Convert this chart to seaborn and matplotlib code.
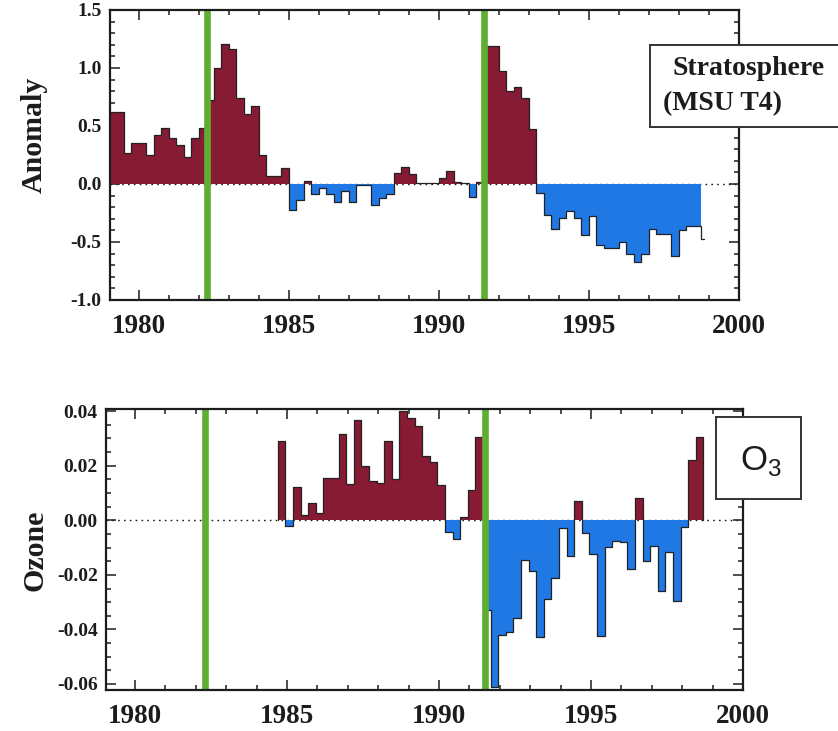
import numpy as np
import pandas as pd
import matplotlib
matplotlib.use("Agg")
import matplotlib.pyplot as plt
import seaborn as sns
from matplotlib.ticker import MultipleLocator, FormatStrFormatter
from matplotlib.patches import Rectangle

# ---------------- data ----------------
strat_start = 1979.0
strat_step = 0.25
strat_values = [
    0.62, 0.62, 0.27, 0.35,      # 1979
    0.35, 0.25, 0.42, 0.48,      # 1980
    0.40, 0.34, 0.23, 0.40,      # 1981
    0.48, 0.72, 1.00, 1.21,      # 1982
    1.16, 0.74, 0.60, 0.67,      # 1983
    0.25, 0.07, 0.07, 0.14,      # 1984
    -0.22, -0.14, 0.025, -0.09,  # 1985
    -0.035, -0.09, -0.155, -0.06,  # 1986
    -0.155, -0.01, -0.01, -0.18,  # 1987
    -0.12, -0.09, 0.095, 0.15,   # 1988
    0.09, 0.01, 0.01, 0.01,      # 1989
    0.05, 0.11, 0.02, 0.005,     # 1990
    -0.11, 0.02, 1.19, 1.19,     # 1991
    0.97, 0.80, 0.84, 0.74,      # 1992
    0.47, -0.08, -0.27, -0.39,   # 1993
    -0.29, -0.23, -0.29, -0.44,  # 1994
    -0.28, -0.53, -0.55, -0.55,  # 1995
    -0.50, -0.60, -0.67, -0.60,  # 1996
    -0.39, -0.43, -0.43, -0.62,  # 1997
    -0.40, -0.36, -0.36, -0.47,  # 1998
]

ozone_start = 1984.7
ozone_step = 0.25
ozone_values = [
    0.0292, -0.0022, 0.0123, 0.0021, 0.0062, 0.0027, 0.0156, 0.0156,
    0.0316, 0.0132, 0.0369, 0.0199, 0.0144, 0.0138, 0.0292, 0.0153,
    0.0400, 0.0374, 0.0347, 0.0236, 0.0215, 0.0128, -0.0043, -0.0070,
    0.0012, 0.0112, 0.0305,
    -0.0330, -0.0610, -0.0420, -0.0410, -0.0357, -0.0146, -0.0186, -0.0427,
    -0.0287, -0.0213, -0.0028, -0.0131, 0.0070, -0.0045, -0.0124, -0.0425,
    -0.0097, -0.0075, -0.0080, -0.0180, 0.0080, -0.0149, -0.0093, -0.0258,
    -0.0117, -0.0295, -0.0023, 0.0220, 0.0305,
]

eruptions = [1982.29, 1991.5]
x_ticks = [1980, 1985, 1990, 1995, 2000]
strat_yticks = [-1.0, -0.5, 0.0, 0.5, 1.0, 1.5]
ozone_yticks = [-0.06, -0.04, -0.02, 0.00, 0.02, 0.04]
strat_label = "Anomaly"
ozone_label = "Ozone"
strat_title = ["Stratosphere", "(MSU T4)"]
ozone_title = r"O$_\mathregular{3}$"

# ---------------- style ----------------
sns.set_style("ticks")
plt.rcParams['font.family'] = ['Liberation Serif', 'DejaVu Serif']
plt.rcParams['font.weight'] = 'bold'
plt.rcParams['axes.unicode_minus'] = False

MAROON = '#861b33'
BLUE = '#1f78e4'
GREEN = '#5fae34'
INK = '#1c1c1c'

fig = plt.figure(figsize=(8.38, 7.31), dpi=100)
fig.patch.set_facecolor('white')
ax1 = fig.add_axes([110/838, 1-300/731, 629/838, 290/731])
ax2 = fig.add_axes([106/838, 1-690/731, 637/838, 281/731])


def draw_series(ax, start, step, values, stub):
    v = np.asarray(values, float)
    t = start + step * np.arange(len(v))
    # filled part (last value of the stratosphere series is drawn as line only)
    nf = len(v) - 1 if stub else len(v)
    tf = np.append(t[:nf], t[nf - 1] + step)
    vf = np.append(v[:nf], v[nf - 1])
    ax.fill_between(tf, 0, np.clip(vf, 0, None), step='post',
                    color=MAROON, lw=0, zorder=2)
    ax.fill_between(tf, 0, np.clip(vf, None, 0), step='post',
                    color=BLUE, lw=0, zorder=2)
    # step outline
    if stub:
        tl = np.append(t, t[-1] + 0.08)
        vl = np.append(v, v[-1])
    else:
        tl = np.concatenate([[t[0]], t, [t[-1] + step, t[-1] + step]])
        vl = np.concatenate([[0.0], v, [v[-1], 0.0]])
    df = pd.DataFrame({'year': tl, 'value': vl})
    sns.lineplot(data=df, x='year', y='value', estimator=None, sort=False,
                 drawstyle='steps-post', color='#222222', lw=0.9,
                 ax=ax, zorder=3)


def style_axis(ax, yticks, ylim, minor_y, fmt):
    ax.axhline(0, color=INK, lw=1.0, ls=(0, (1.2, 3)), zorder=1.5)
    for x in eruptions:
        ax.axvline(x, color=GREEN, lw=4.8, zorder=4)
    ax.set_xlim(1979.05, 2000.0)
    ax.set_ylim(*ylim)
    ax.set_xticks(x_ticks)
    ax.set_xticklabels([str(v) for v in x_ticks])
    ax.xaxis.set_minor_locator(MultipleLocator(1))
    ax.set_yticks(yticks)
    ax.yaxis.set_major_formatter(FormatStrFormatter(fmt))
    ax.yaxis.set_minor_locator(MultipleLocator(minor_y))
    ax.set_xlabel('')
    ax.set_ylabel('')
    for s in ax.spines.values():
        s.set_visible(True)
        s.set_linewidth(1.6)
        s.set_color(INK)
        s.set_zorder(6)
    ax.tick_params(which='both', direction='in', top=True, right=True,
                   width=1.1, color=INK, labelcolor=INK)
    ax.tick_params(which='major', length=7)
    ax.tick_params(which='minor', length=3.5)
    ax.tick_params(axis='x', which='major', labelsize=19.5, pad=10)
    ax.tick_params(axis='y', which='major', labelsize=14, pad=6)
    ax.set_facecolor('white')


draw_series(ax1, strat_start, strat_step, strat_values, stub=True)
draw_series(ax2, ozone_start, ozone_step, ozone_values, stub=False)
style_axis(ax1, strat_yticks, (-1.0, 1.5), 0.1, '%.1f')
style_axis(ax2, ozone_yticks, (-0.0622, 0.0408), 0.005, '%.2f')

# y-axis titles
fig.text(34/838, 1-135/731, strat_label, rotation=90, ha='center', va='center',
         fontsize=21.5, fontweight='bold', color=INK)
fig.text(35/838, 1-550/731, ozone_label, rotation=90, ha='center', va='center',
         fontsize=21.5, fontweight='bold', color=INK)

# label boxes
fig.add_artist(Rectangle((650/838, 1-127/731), 200/838, 82/731,
                         transform=fig.transFigure, facecolor='white',
                         edgecolor='#333333', lw=1.4, zorder=10))
fig.text(672/838, 1-75/731, strat_title[0], ha='left', va='baseline',
         fontsize=20, fontweight='bold', color=INK, zorder=11)
fig.text(663/838, 1-110/731, strat_title[1], ha='left', va='baseline',
         fontsize=20, fontweight='bold', color=INK, zorder=11)

fig.add_artist(Rectangle((716/838, 1-499/731), 85/838, 82/731,
                         transform=fig.transFigure, facecolor='white',
                         edgecolor='#333333', lw=1.4, zorder=10))
fig.text(740/838, 1-470/731, ozone_title, ha='left', va='baseline',
         fontsize=25, fontweight='normal', color=INK, zorder=11,
         family=['Liberation Sans', 'DejaVu Sans'])

fig.savefig('out.png', dpi=100, facecolor='white')
